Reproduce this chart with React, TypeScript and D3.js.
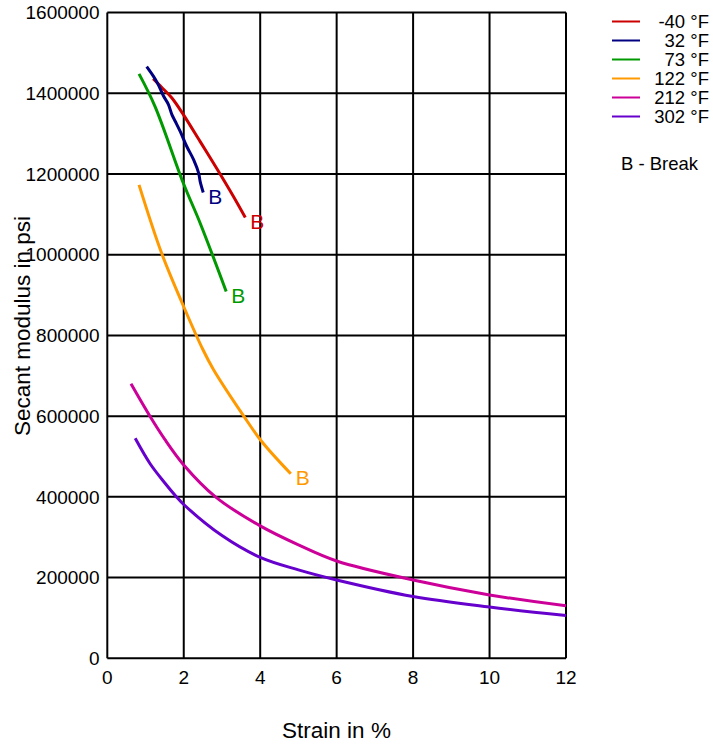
import React from "react";
import * as d3 from "d3";

// strain in %, secant modulus in psi
const red40 = [[1.2, 1436000], [1.42, 1415000], [1.69, 1388000], [1.99, 1347000], [2.43, 1280000], [2.86, 1214000], [3.3, 1144000], [3.61, 1092000]];
const blue32 = [[1.03, 1466000], [1.2, 1443000], [1.33, 1422000], [1.47, 1393000], [1.6, 1372000], [1.69, 1347000], [1.78, 1330000], [1.91, 1305000], [2.08, 1268000], [2.26, 1235000], [2.39, 1202000], [2.43, 1181000], [2.51, 1154000]];
const green73 = [[0.83, 1448000], [1.25, 1367000], [1.99, 1177000], [2.43, 1078000], [3.11, 909000]];
const orange122 = [[0.83, 1173000], [1.42, 1004000], [2.0, 871000], [2.5, 765000], [2.78, 715000], [3.57, 600000], [4.04, 537000], [4.8, 457000]];
const magenta212 = [[0.62, 680000], [1.12, 599000], [1.5, 543000], [2.0, 479000], [2.83, 400000], [4.0, 328000], [5.0, 281000], [6.0, 241000], [8.0, 194000], [10.0, 157000], [12.0, 130000]];
const purple302 = [[0.73, 545000], [1.12, 482000], [1.5, 435000], [1.8, 401000], [2.0, 381000], [3.0, 304000], [4.0, 250000], [5.0, 219000], [6.0, 194000], [8.0, 153000], [10.0, 127000], [12.0, 106000]];

const series = [
  { name: "-40 °F", color: "#cc0000", data: red40, brk: true },
  { name: "32 °F", color: "#000080", data: blue32, brk: true },
  { name: "73 °F", color: "#009900", data: green73, brk: true },
  { name: "122 °F", color: "#ff9900", data: orange122, brk: true },
  { name: "212 °F", color: "#cc0099", data: magenta212, brk: false },
  { name: "302 °F", color: "#6600cc", data: purple302, brk: false },
];

const xTicks = [0, 2, 4, 6, 8, 10, 12];
const yTicks = [0, 200000, 400000, 600000, 800000, 1000000, 1200000, 1400000, 1600000];

export default function App() {
  const width = 713;
  const height = 745;
  const left = 107.3, right = 566, top = 12.5, bottom = 658.3;

  const x = d3.scaleLinear().domain([0, 12]).range([left, right]);
  const y = d3.scaleLinear().domain([0, 1600000]).range([bottom, top]);

  const line = d3.line<number[]>()
    .x(d => x(d[0]))
    .y(d => y(d[1]))
    .curve(d3.curveCatmullRom.alpha(0.5));

  const font = "'Liberation Sans', Arial, sans-serif";

  return (
    <svg width={width} height={height} style={{ position: "absolute", left: 0, top: 0, background: "#fff" }} fontFamily={font}>
      {/* grid */}
      {xTicks.map(t => (
        <line key={"gx" + t} x1={x(t)} x2={x(t)} y1={top} y2={bottom} stroke="#000" strokeWidth={2} />
      ))}
      {yTicks.map(t => (
        <line key={"gy" + t} x1={left} x2={right} y1={y(t)} y2={y(t)} stroke="#000" strokeWidth={2} />
      ))}

      {/* tick labels */}
      {xTicks.map(t => (
        <text key={"tx" + t} x={x(t)} y={683.5} textAnchor="middle" fontSize={19}>{t}</text>
      ))}
      {yTicks.map(t => (
        <text key={"ty" + t} x={99.5} y={y(t)} dy="0.35em" textAnchor="end" fontSize={19}>{t}</text>
      ))}

      {/* axis titles */}
      <text x={336.5} y={738} textAnchor="middle" fontSize={22.5}>Strain in %</text>
      <text transform="translate(30,326) rotate(-90)" textAnchor="middle" fontSize={22.5}>Secant modulus in psi</text>

      {/* curves */}
      {series.map(s => (
        <path key={s.name} d={line(s.data) || ""} fill="none" stroke={s.color} strokeWidth={3} />
      ))}
      {series.filter(s => s.brk).map(s => {
        const last = s.data[s.data.length - 1];
        return (
          <text key={"b" + s.name} x={x(last[0]) + 5} y={y(last[1]) + 4} dy="0.35em" fontSize={21} fill={s.color}>B</text>
        );
      })}

      {/* legend */}
      {series.map((s, i) => (
        <g key={"lg" + s.name} transform={`translate(0,${21.5 + i * 19})`}>
          <line x1={612} x2={640} y1={0} y2={0} stroke={s.color} strokeWidth={2} />
          <text x={709} y={0} dy="0.35em" textAnchor="end" fontSize={18.5}>{s.name}</text>
        </g>
      ))}
      <text x={621} y={164} dy="0.35em" fontSize={18.5}>B - Break</text>
    </svg>
  );
}
